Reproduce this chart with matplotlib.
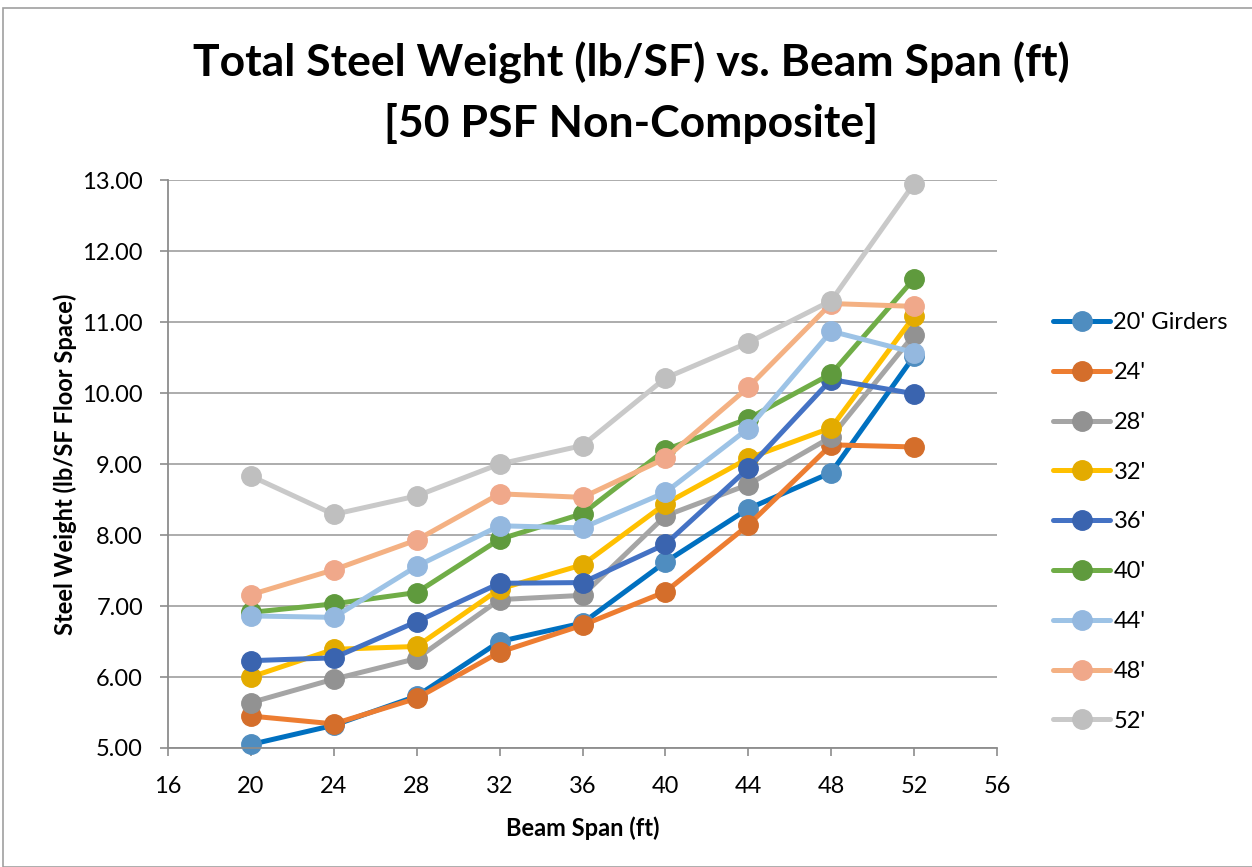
import matplotlib
matplotlib.use("Agg")
import matplotlib.pyplot as plt
from matplotlib.patches import Rectangle

plt.rcParams['font.family'] = ['Lato', 'DejaVu Sans']

beam_span = [20, 24, 28, 32, 36, 40, 44, 48, 52]
series_labels = ["20' Girders", "24'", "28'", "32'", "36'", "40'", "44'", "48'", "52'"]
w20 = [5.05, 5.32, 5.73, 6.50, 6.76, 7.62, 8.37, 8.88, 10.52]
w24 = [5.45, 5.34, 5.70, 6.35, 6.73, 7.20, 8.14, 9.27, 9.24]
w28 = [5.64, 5.97, 6.26, 7.09, 7.15, 8.27, 8.71, 9.38, 10.82]
w32 = [6.00, 6.39, 6.43, 7.24, 7.58, 8.44, 9.08, 9.51, 11.08]
w36 = [6.23, 6.27, 6.78, 7.32, 7.33, 7.87, 8.94, 10.19, 9.99]
w40 = [6.91, 7.03, 7.19, 7.94, 8.30, 9.20, 9.64, 10.27, 11.61]
w44 = [6.86, 6.84, 7.56, 8.13, 8.10, 8.60, 9.50, 10.87, 10.57]
w48 = [7.16, 7.51, 7.93, 8.58, 8.53, 9.08, 10.08, 11.26, 11.22]
w52 = [8.83, 8.29, 8.55, 9.00, 9.26, 10.21, 10.71, 11.30, 12.95]
series = [w20, w24, w28, w32, w36, w40, w44, w48, w52]

line_colors = ['#0070C0', '#ED7D31', '#A5A5A5', '#FFC000', '#4472C4',
               '#70AD47', '#9DC3E6', '#F4B183', '#C9C9C9']
marker_colors = ['#4F8DC0', '#D46E2B', '#929292', '#E3AB00', '#3A64AF',
                 '#5F9A3D', '#94B8DF', '#F0A88A', '#BFBFBF']

x_ticks = [16, 20, 24, 28, 32, 36, 40, 44, 48, 52, 56]
y_ticks = [5, 6, 7, 8, 9, 10, 11, 12, 13]

fig = plt.figure(figsize=(12.52, 8.67), dpi=100)
ax = fig.add_axes([168/1252, 1-748/867, (997-168)/1252, (748-180)/867])

for vals, lab, lc, mc in zip(series, series_labels, line_colors, marker_colors):
    ax.plot(beam_span, vals, color=lc, lw=3.6, marker='o', markersize=14,
            markerfacecolor=mc, markeredgecolor=mc, label=lab,
            solid_capstyle='round', clip_on=False)

ax.set_xlim(16, 56)
ax.set_ylim(5, 13)
ax.set_xticks(x_ticks)
ax.set_yticks(y_ticks)
ax.set_yticklabels([f"{v:.2f}" for v in y_ticks])
ax.tick_params(axis='both', labelsize=17, colors='#8C8C8C', labelcolor='black',
               length=6, width=1.2, direction='out')
ax.tick_params(axis='y', pad=12)
ax.tick_params(axis='x', pad=14)
ax.grid(axis='y', color='#A6A6A6', lw=1.3)
ax.set_axisbelow(True)
for s in ['top', 'right']:
    ax.spines[s].set_visible(False)
for s in ['left', 'bottom']:
    ax.spines[s].set_color('#8C8C8C')
    ax.spines[s].set_linewidth(1.3)

ax.set_xlabel('Beam Span (ft)', fontsize=17, fontweight='bold', labelpad=14)
ax.set_ylabel('Steel Weight (lb/SF Floor Space)', fontsize=17, fontweight='bold', labelpad=4)

fig.text(631/1252, 1-63/867, 'Total Steel Weight (lb/SF) vs. Beam Span (ft)',
         ha='center', va='center', fontsize=32, fontweight='bold')
fig.text(631/1252, 1-123/867, '[50 PSF Non-Composite]',
         ha='center', va='center', fontsize=32, fontweight='bold')

leg = ax.legend(loc='upper left', bbox_to_anchor=(1032/1252, 1-291/867),
                bbox_transform=fig.transFigure, frameon=False, fontsize=17,
                labelspacing=1.22, handlelength=2.4, handletextpad=0.15)

fig.patches.append(Rectangle((3/1252, 0), 1.5, 1-8/867, transform=fig.transFigure,
                             fill=False, edgecolor='#A0A0A0', lw=1.2))

fig.savefig('out.png', dpi=100)
